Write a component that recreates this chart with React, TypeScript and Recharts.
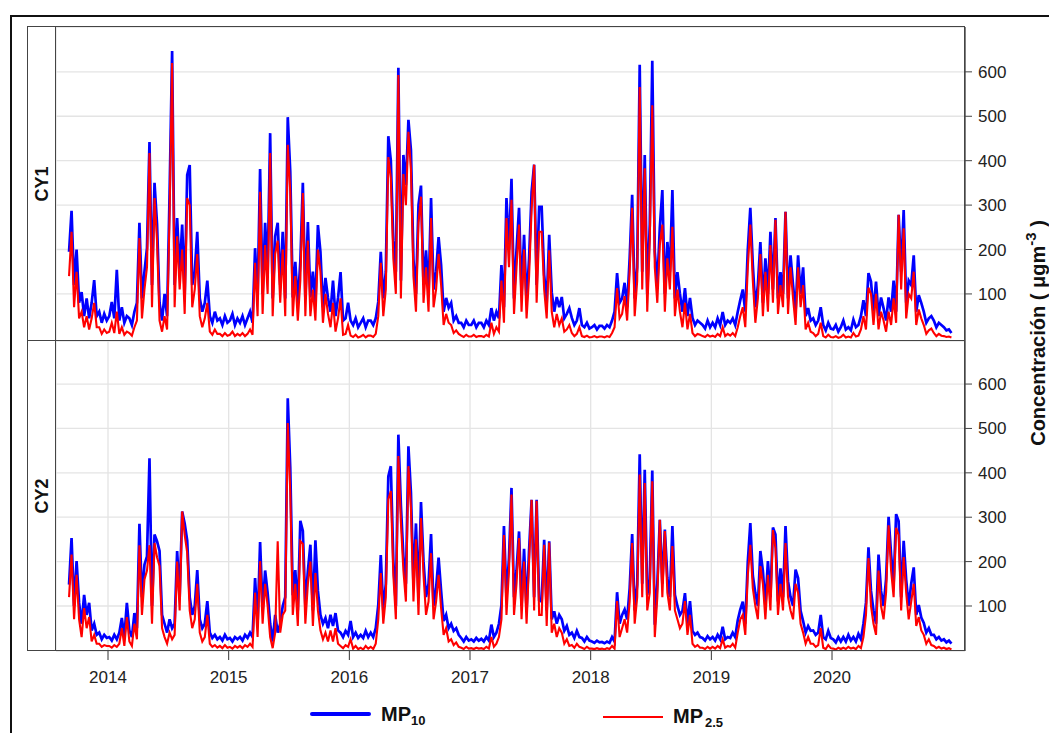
import { LineChart, Line, XAxis, YAxis, CartesianGrid } from 'recharts'

// Marcas de los ejes
const yearTicks = [2014, 2015, 2016, 2017, 2018, 2019, 2020]
const valueTicks = [100, 200, 300, 400, 500, 600]
const startYear = 2013
const startMonth = 8 // septiembre (0 = enero)
const perMonth = 4

// CY1 - MP10, 4 valores por mes desde sep-2013
const cy1Pm10 = [
  195, 287, 120, 200, 80, 104, 50, 90, 45, 80, 131, 50, 60, 35, 55, 40,
  50, 82, 45, 154, 40, 70, 35, 50, 45, 30, 60, 80, 260, 90, 150, 203, 442, 120, 350, 258, 80, 40, 100, 50, 327, 647, 120, 271, 150, 256, 100, 368, 390, 120, 150, 240, 90, 60, 80, 130, 50, 35, 60, 40, 45, 30, 50, 35,
  40, 55, 30, 45, 35, 50, 30, 45, 60, 35, 203, 90, 381, 100, 260, 150, 462, 90, 230, 260, 120, 240, 90, 498, 375, 92, 172, 80, 172, 350, 90, 262, 92, 150, 80, 255, 195, 70, 136, 91, 60, 130, 50, 91, 149, 40, 45, 80,
  40, 30, 45, 25, 35, 45, 25, 40, 40, 30, 45, 82, 195, 90, 150, 455, 400, 220, 150, 609, 130, 413, 345, 492, 424, 178, 100, 300, 344, 120, 198, 100, 316, 110, 150, 228, 165, 60, 91, 69, 80, 40, 50, 35, 35, 25, 40, 30,
  30, 40, 25, 35, 35, 25, 40, 30, 68, 40, 60, 45, 165, 70, 316, 200, 359, 90, 200, 294, 100, 233, 80, 180, 330, 391, 120, 296, 296, 143, 80, 233, 104, 60, 93, 70, 93, 45, 55, 68, 46, 30, 40, 68, 30, 25, 35, 22,
  25, 30, 20, 28, 28, 22, 30, 25, 40, 60, 147, 80, 90, 125, 70, 180, 323, 90, 160, 616, 150, 413, 100, 255, 625, 195, 120, 250, 334, 100, 217, 150, 334, 90, 149, 100, 60, 113, 50, 91, 46, 30, 40, 35, 30, 22, 40, 25,
  35, 25, 45, 30, 59, 30, 40, 35, 45, 30, 60, 86, 110, 60, 200, 294, 165, 70, 120, 217, 80, 180, 100, 240, 110, 271, 90, 149, 100, 285, 90, 187, 120, 60, 187, 100, 160, 50, 68, 40, 45, 30, 40, 70, 30, 18, 35, 22,
  20, 30, 15, 25, 40, 20, 25, 18, 42, 25, 30, 50, 86, 50, 147, 128, 60, 128, 50, 92, 68, 40, 92, 60, 130, 60, 278, 150, 289, 80, 130, 120, 187, 60, 97, 80, 60, 35, 45, 50, 40, 25, 35, 30, 25, 18, 20, 12,
]

// CY1 - MP2.5
const cy1Pm25 = [
  140, 240, 70, 150, 45, 60, 25, 50, 20, 45, 80, 25, 25, 10, 20, 12,
  15, 35, 12, 60, 10, 25, 8, 15, 12, 6, 25, 40, 226, 45, 110, 160, 417, 70, 316, 220, 40, 15, 50, 20, 280, 620, 70, 230, 110, 200, 55, 316, 300, 70, 110, 190, 50, 25, 45, 80, 15, 8, 20, 10, 10, 5, 12, 6,
  8, 15, 5, 10, 6, 12, 5, 10, 20, 8, 170, 50, 330, 55, 210, 100, 417, 50, 190, 220, 80, 200, 50, 436, 330, 50, 140, 40, 130, 327, 50, 220, 50, 110, 40, 200, 150, 35, 100, 55, 25, 80, 15, 45, 90, 8, 10, 30,
  6, 3, 8, 2, 4, 8, 2, 6, 6, 3, 10, 50, 170, 50, 110, 408, 360, 180, 100, 593, 90, 370, 300, 465, 380, 140, 60, 260, 319, 80, 160, 60, 271, 70, 110, 190, 120, 30, 55, 35, 30, 12, 18, 10, 6, 3, 8, 4,
  4, 8, 3, 5, 5, 3, 8, 4, 35, 10, 25, 15, 130, 35, 271, 160, 312, 55, 160, 256, 60, 200, 45, 140, 290, 391, 80, 240, 240, 110, 45, 198, 60, 25, 55, 30, 45, 15, 20, 30, 12, 5, 10, 25, 5, 3, 6, 2,
  3, 5, 2, 4, 4, 2, 5, 3, 12, 25, 113, 45, 55, 95, 40, 150, 294, 50, 130, 566, 110, 383, 60, 220, 525, 160, 80, 210, 256, 60, 180, 110, 251, 50, 110, 60, 25, 80, 20, 55, 12, 5, 10, 8, 5, 3, 8, 4,
  6, 3, 10, 5, 25, 5, 10, 6, 12, 5, 25, 50, 70, 25, 160, 256, 130, 35, 90, 190, 50, 150, 60, 210, 80, 267, 55, 120, 70, 285, 55, 160, 90, 30, 160, 70, 120, 20, 35, 15, 12, 5, 10, 35, 5, 2, 8, 3,
  2, 5, 1, 3, 8, 2, 4, 2, 12, 4, 6, 20, 50, 20, 114, 100, 30, 100, 20, 60, 40, 15, 60, 30, 90, 35, 278, 110, 248, 45, 100, 90, 150, 30, 65, 45, 30, 10, 18, 22, 12, 5, 10, 6, 5, 3, 4, 2,
]

// CY2 - MP10
const cy2Pm10 = [
  148, 253, 100, 201, 107, 60, 125, 80, 107, 45, 60, 35, 40, 25, 35, 28,
  30, 22, 35, 25, 40, 73, 30, 107, 45, 30, 84, 50, 285, 120, 193, 212, 433, 100, 261, 246, 224, 80, 60, 40, 70, 50, 60, 224, 120, 313, 286, 248, 120, 80, 100, 181, 70, 50, 60, 111, 40, 28, 35, 25, 30, 22, 35, 25,
  28, 20, 30, 25, 30, 22, 35, 28, 40, 30, 163, 60, 244, 90, 180, 129, 60, 20, 80, 40, 60, 100, 120, 568, 411, 124, 181, 90, 292, 269, 100, 179, 238, 90, 248, 134, 80, 60, 73, 50, 80, 55, 84, 45, 40, 30, 44, 35,
  66, 30, 40, 28, 35, 28, 44, 30, 40, 30, 50, 102, 215, 90, 150, 392, 415, 201, 100, 486, 327, 212, 150, 460, 355, 150, 286, 120, 334, 201, 120, 150, 262, 100, 140, 209, 134, 66, 80, 50, 60, 44, 50, 35, 28, 20, 30, 22,
  25, 20, 28, 22, 26, 20, 30, 22, 58, 30, 40, 60, 102, 280, 120, 208, 366, 120, 180, 268, 100, 229, 90, 226, 339, 120, 339, 113, 110, 249, 90, 246, 70, 88, 60, 80, 70, 44, 55, 35, 40, 28, 44, 30, 28, 20, 30, 22,
  20, 17, 22, 18, 19, 16, 20, 17, 30, 20, 131, 60, 80, 92, 70, 140, 262, 90, 148, 442, 150, 407, 125, 160, 405, 58, 150, 294, 150, 272, 163, 120, 280, 125, 100, 80, 89, 129, 60, 111, 44, 35, 40, 30, 28, 22, 32, 25,
  30, 22, 35, 25, 53, 25, 30, 28, 40, 30, 68, 92, 110, 60, 200, 287, 168, 129, 100, 224, 179, 100, 201, 120, 277, 261, 110, 185, 120, 280, 156, 120, 100, 182, 163, 89, 66, 40, 55, 44, 45, 35, 40, 80, 30, 25, 44, 28,
  25, 18, 30, 20, 30, 20, 35, 22, 30, 20, 37, 25, 60, 107, 232, 134, 90, 60, 216, 134, 100, 160, 301, 216, 150, 307, 291, 120, 247, 159, 100, 150, 187, 80, 102, 74, 62, 40, 50, 35, 35, 25, 30, 22, 25, 18, 22, 15,
]

// CY2 - MP2.5
const cy2Pm25 = [
  120, 216, 70, 170, 70, 30, 95, 50, 75, 20, 35, 15, 15, 8, 12, 10,
  10, 6, 12, 8, 15, 50, 10, 75, 20, 10, 60, 25, 237, 80, 160, 180, 237, 60, 242, 210, 190, 50, 30, 15, 40, 25, 35, 200, 90, 313, 260, 220, 90, 50, 70, 150, 40, 20, 30, 80, 15, 8, 12, 6, 10, 5, 12, 6,
  8, 4, 10, 6, 10, 5, 12, 8, 15, 8, 130, 30, 201, 60, 150, 100, 30, 5, 40, 246, 40, 80, 90, 512, 355, 80, 150, 55, 246, 240, 60, 150, 200, 55, 174, 90, 45, 25, 40, 20, 45, 20, 50, 15, 10, 5, 12, 8,
  25, 4, 10, 3, 6, 2, 10, 4, 8, 3, 15, 70, 174, 60, 120, 340, 359, 170, 70, 438, 290, 180, 110, 415, 320, 110, 250, 80, 298, 170, 80, 110, 219, 70, 110, 170, 95, 35, 50, 20, 25, 12, 18, 8, 6, 3, 8, 4,
  5, 3, 6, 4, 5, 3, 8, 4, 30, 8, 15, 30, 70, 260, 80, 180, 351, 80, 150, 253, 70, 200, 60, 200, 339, 90, 337, 80, 80, 238, 55, 243, 40, 60, 30, 50, 40, 15, 25, 10, 12, 6, 15, 8, 6, 3, 8, 4,
  4, 3, 5, 3, 4, 2, 5, 3, 10, 4, 111, 30, 50, 70, 40, 110, 242, 60, 120, 396, 120, 377, 90, 130, 381, 30, 120, 294, 120, 269, 130, 90, 235, 90, 70, 50, 60, 111, 35, 80, 15, 8, 12, 6, 6, 3, 8, 4,
  8, 4, 10, 5, 25, 6, 10, 8, 15, 6, 40, 70, 80, 35, 170, 238, 140, 100, 70, 190, 150, 70, 170, 90, 271, 230, 80, 150, 90, 242, 120, 90, 70, 150, 130, 60, 40, 15, 30, 15, 15, 8, 12, 50, 6, 3, 12, 5,
  4, 2, 6, 3, 6, 3, 8, 4, 6, 3, 10, 5, 30, 80, 208, 100, 60, 35, 180, 100, 70, 130, 282, 180, 120, 276, 260, 90, 210, 130, 70, 110, 150, 55, 75, 45, 35, 15, 25, 12, 10, 5, 8, 4, 6, 3, 5, 2,
]

const xDomain: [number, number] = [2013.569, 2021.102]
const font = '"Liberation Sans", Arial, sans-serif'

const buildRows = (pm10: number[], pm25: number[]) =>
  pm10.map((v, i) => ({
    t: startYear + (startMonth + Math.floor(i / perMonth)) / 12 + ((i % perMonth) + 0.5) / (12 * perMonth),
    pm10: v,
    pm25: pm25[i],
  }))

const cy1Rows = buildRows(cy1Pm10, cy1Pm25)
const cy2Rows = buildRows(cy2Pm10, cy2Pm25)

type PanelProps = {
  rows: { t: number; pm10: number; pm25: number }[]
  yDomain: [number, number]
  height: number
  showX: boolean
}

function Panel({ rows, yDomain, height, showX }: PanelProps) {
  return (
    <LineChart width={993} height={height} data={rows} margin={{ top: 0, right: 0, bottom: 0, left: 0 }}>
      <CartesianGrid stroke="#e4e4e4" strokeWidth={1.3} />
      <XAxis
        type="number"
        dataKey="t"
        domain={xDomain}
        allowDataOverflow
        ticks={yearTicks}
        interval={0}
        height={showX ? 40 : 0}
        tick={showX ? { fill: '#222', fontSize: 17, fontFamily: font } : false}
        tickLine={showX ? { stroke: '#333' } : false}
        axisLine={false}
        tickSize={9}
        tickMargin={11}
      />
      <YAxis
        orientation="right"
        type="number"
        domain={yDomain}
        allowDataOverflow
        ticks={valueTicks}
        interval={0}
        width={84}
        tick={{ fill: '#222', fontSize: 17, fontFamily: font, textAnchor: 'start' }}
        tickSize={7}
        tickMargin={6}
        axisLine={{ stroke: '#444', strokeWidth: 1.3 }}
        tickLine={{ stroke: '#444' }}
      />
      <Line type="linear" dataKey="pm10" stroke="#0000ff" strokeWidth={2.7} strokeLinejoin="miter" dot={false} isAnimationActive={false} />
      <Line type="linear" dataKey="pm25" stroke="#ff0000" strokeWidth={2.1} strokeLinejoin="miter" dot={false} isAnimationActive={false} />
    </LineChart>
  )
}

const stripText = (label: string, cy: number) => (
  <svg width={29} height={60} style={{ position: 'absolute', left: 27, top: cy - 30 }}>
    <text
      x={0}
      y={0}
      transform="translate(20.5,30) rotate(-90)"
      textAnchor="middle"
      fontFamily={font}
      fontWeight="bold"
      fontSize={18}
      fill="#111"
    >
      {label}
    </text>
  </svg>
)

export default function App() {
  return (
    <div style={{ position: 'absolute', left: 0, top: 0, width: 1049, height: 733, background: '#fff', fontFamily: font, overflow: 'hidden' }}>
      {/* marco exterior */}
      <div style={{ position: 'absolute', left: 10, top: 15, width: 1049, height: 733, borderLeft: '2px solid #111', borderTop: '2px solid #111' }} />

      <div style={{ position: 'absolute', left: 56, top: 27 }}>
        <Panel rows={cy1Rows} yDomain={[-6, 701]} height={314} showX={false} />
      </div>
      <div style={{ position: 'absolute', left: 56, top: 341 }}>
        <Panel rows={cy2Rows} yDomain={[-1.4, 697]} height={350} showX />
      </div>

      {/* cajas de los paneles */}
      <div style={{ position: 'absolute', left: 27, top: 26, width: 938, height: 625, border: '1.3px solid #444', boxSizing: 'border-box', pointerEvents: 'none' }} />
      <div style={{ position: 'absolute', left: 27, top: 340, width: 938, height: 0, borderTop: '1.3px solid #444' }} />
      <div style={{ position: 'absolute', left: 55, top: 26, width: 0, height: 625, borderLeft: '1.3px solid #444' }} />

      {stripText('CY1', 184)}
      {stripText('CY2', 496)}

      {/* título del eje */}
      <svg width={45} height={733} style={{ position: 'absolute', left: 1004, top: 0 }}>
        <text
          transform="translate(41,333) rotate(-90)"
          textAnchor="middle"
          fontFamily={font}
          fontWeight="bold"
          fontSize={20}
          fill="#111"
        >
          Concentración ( μgm
          <tspan dy={-9} fontSize={15}>-3</tspan>
          <tspan dy={9}> )</tspan>
        </text>
      </svg>

      {/* leyenda */}
      <div style={{ position: 'absolute', left: 310, top: 712, width: 61, height: 4, background: '#0000ff', borderRadius: 2 }} />
      <div style={{ position: 'absolute', left: 381, top: 702, fontSize: 20, fontWeight: 'bold', color: '#111', lineHeight: '24px' }}>
        MP<span style={{ fontSize: 13, position: 'relative', top: 4 }}>10</span>
      </div>
      <div style={{ position: 'absolute', left: 603, top: 716, width: 60, height: 2, background: '#ff0000' }} />
      <div style={{ position: 'absolute', left: 673, top: 704, fontSize: 20, fontWeight: 'bold', color: '#111', lineHeight: '24px' }}>
        MP<span style={{ fontSize: 13, position: 'relative', top: 4, marginLeft: 2 }}>2.5</span>
      </div>
    </div>
  )
}
